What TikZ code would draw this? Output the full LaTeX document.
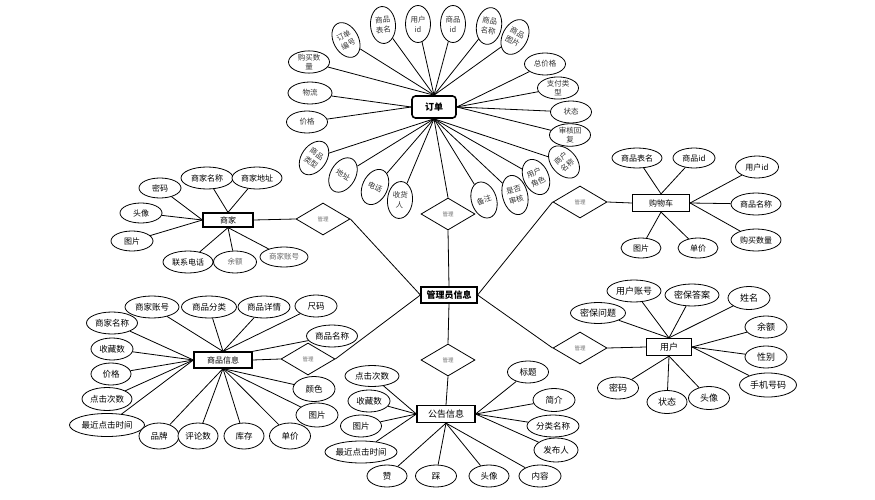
\documentclass[tikz,border=0pt]{standalone}
\usepackage{fontspec}
\setmainfont{Noto Sans CJK SC}
\usetikzlibrary{shapes.geometric}
\begin{document}
\begin{tikzpicture}[x=1pt,y=-1pt,
  every node/.style={font=\fontsize{8}{9}\selectfont},
  ent/.style={draw, line width=1.2pt, inner sep=0pt, fill=white},
  att/.style={draw, ellipse, line width=0.8pt, inner sep=0pt, fill=white, minimum width=42pt, minimum height=21pt, align=center},
  ratt/.style={draw, ellipse, line width=0.8pt, inner sep=0pt, fill=white, minimum width=25pt, minimum height=37pt, align=center, font=\fontsize{7.5}{10}\selectfont, text=black!80},
  oatt/.style={att, minimum width=41pt, minimum height=22pt, font=\fontsize{7.5}{9}\selectfont, text=black!80},
  rel/.style={draw, diamond, line width=0.8pt, inner sep=0pt, fill=white, minimum width=54pt, minimum height=32pt, font=\fontsize{5.5}{6}\selectfont, text=black!55},
  ln/.style={line width=0.8pt},
  f9/.style={font=\fontsize{9}{10}\selectfont},
  gry/.style={text=black!60, font=\fontsize{7.5}{8.5}\selectfont}
]
\fill[white] (0,0) rectangle (875,500);
\useasboundingbox (0,0) rectangle (875,500);

% ---------- entities ----------
\node[ent, rounded corners=3.5pt, line width=1.6pt, minimum width=44pt, minimum height=22pt, font=\fontsize{9}{10}\selectfont\bfseries] (ord) at (434,107) {订单};
\node[ent, minimum width=56pt, minimum height=16pt, font=\fontsize{9}{10}\selectfont\bfseries] (adm) at (449,295) {管理员信息};
\node[ent, minimum width=50pt, minimum height=14pt] (mer) at (228,220) {商家};
\node[ent, minimum width=57pt, minimum height=17pt] (cart) at (661,203) {购物车};
\node[ent, minimum width=45pt, minimum height=17pt, f9] (usr) at (669,347) {用户};
\node[ent, minimum width=58pt, minimum height=16pt] (prd) at (223,360) {商品信息};
\node[ent, minimum width=58pt, minimum height=17pt, f9] (ann) at (446,414) {公告信息};

% ---------- relations ----------
\node[rel] (dT) at (448,214) {管理};
\node[rel] (dL) at (323,219) {管理};
\node[rel] (dR) at (580,202) {管理};
\node[rel] (dRR) at (580,348) {管理};
\node[rel] (dBL) at (308,359) {管理};
\node[rel] (dB) at (448,360) {管理};

% ---------- order attributes ----------
\node[ratt, rotate=28] (o1) at (346,40) {订单\\编号};
\node[ratt, rotate=4] (o2) at (383,25) {商品\\表名};
\node[ratt] (o3) at (418,24) {用户\\id};
\node[ratt] (o4) at (453,24) {商品\\id};
\node[ratt, rotate=-10] (o5) at (489,26) {商品\\名称};
\node[ratt, rotate=-28] (o6) at (515,37) {商品\\图片};
\node[oatt] (o7) at (545,64) {总价格};
\node[oatt] (o8) at (558,88) {支付类\\型};
\node[oatt] (o9) at (571,112) {状态};
\node[oatt] (o10) at (570,135) {审核回\\复};
\node[ratt, rotate=42] (o11) at (564,162) {商户\\名称};
\node[ratt, rotate=25] (o12) at (536,177) {用户\\角色};
\node[ratt, rotate=15, minimum height=40pt] (o13) at (515,195) {是否\\审核};
\node[ratt, rotate=18] (o14) at (484,200) {备注};
\node[ratt, rotate=-5] (o15) at (400,200) {收货\\人};
\node[ratt, rotate=-25] (o16) at (375,187) {电话};
\node[ratt, rotate=-30] (o17) at (343,175) {地址};
\node[ratt, rotate=-35] (o18) at (314,158) {商品\\类型};
\node[oatt] (o19) at (307,122) {价格};
\node[oatt, minimum width=44pt] (o20) at (310,93) {物流};
\node[oatt] (o21) at (309,62) {购买数\\量};

\foreach \n in {o1,o2,o3,o4,o5,o6,o21} \draw[ln] (\n) -- (ord.north);
\foreach \n in {o7,o8,o9,o10} \draw[ln] (\n) -- (ord.east);
\foreach \n in {o19,o20} \draw[ln] (\n) -- (ord.west);
\foreach \n in {o11,o12,o13,o14,o15,o16,o17,o18} \draw[ln] (\n) -- (ord.south);

% ---------- merchant attributes ----------
\node[att, minimum width=42pt, minimum height=20pt] (m1) at (160,188) {密码};
\node[att, minimum width=52pt, minimum height=22pt] (m2) at (207,178) {商家名称};
\node[att, minimum width=50pt, minimum height=22pt] (m3) at (257,178) {商家地址};
\node[att, minimum width=42pt, minimum height=20pt] (m4) at (141,213) {头像};
\node[att, minimum width=42pt, minimum height=20pt] (m5) at (132,241) {图片};
\node[att, minimum width=50pt, minimum height=22pt] (m6) at (188,262) {联系电话};
\node[att, gry, minimum width=43pt, minimum height=22pt] (m7) at (235,262) {余额};
\node[att, gry, minimum width=48pt, minimum height=20pt] (m8) at (284,257) {商家账号};
\foreach \n in {m1,m4,m5} \draw[ln] (\n) -- (mer.west);
\foreach \n in {m2,m3} \draw[ln] (\n) -- (mer.north);
\foreach \n in {m6,m7,m8} \draw[ln] (\n) -- (mer.south);

% ---------- cart attributes ----------
\node[att, minimum width=50pt, minimum height=20pt] (c1) at (637,158) {商品表名};
\node[att, minimum width=42pt, minimum height=20pt] (c2) at (694,158) {商品id};
\node[att, minimum width=43pt, minimum height=22pt] (c3) at (757,167) {用户id};
\node[att, minimum width=50pt, minimum height=22pt] (c4) at (756,204) {商品名称};
\node[att, minimum width=50pt, minimum height=22pt] (c5) at (756,240) {购买数量};
\node[att, minimum width=40pt, minimum height=20pt] (c6) at (641,248) {图片};
\node[att, minimum width=40pt, minimum height=20pt] (c7) at (698,248) {单价};
\foreach \n in {c1,c2} \draw[ln] (\n) -- (cart.north);
\foreach \n in {c3,c4,c5} \draw[ln] (\n) -- (cart.east);
\foreach \n in {c6,c7} \draw[ln] (\n) -- (cart.south);

% ---------- user attributes ----------
\begin{scope}[every node/.append style={f9}]
\node[att, minimum width=54pt, minimum height=22pt] (u1) at (634,291) {用户账号};
\node[att, minimum width=54pt, minimum height=22pt] (u2) at (692,295) {密保答案};
\node[att, minimum width=55pt, minimum height=21pt] (u3) at (598,313) {密保问题};
\node[att, minimum width=42pt, minimum height=23pt] (u4) at (749,298) {姓名};
\node[att, minimum width=42pt, minimum height=22pt] (u5) at (766,327) {余额};
\node[att, minimum width=42pt, minimum height=22pt] (u6) at (766,357) {性别};
\node[att, minimum width=57pt, minimum height=24pt] (u7) at (768,385) {手机号码};
\node[att, minimum width=41pt, minimum height=22pt] (u8) at (618,388) {密码};
\node[att, minimum width=40pt, minimum height=23pt] (u9) at (667,402) {状态};
\node[att, minimum width=41pt, minimum height=23pt] (u10) at (709,398) {头像};
\end{scope}
\foreach \n in {u1,u2,u3,u4} \draw[ln] (\n) -- (usr.north);
\foreach \n in {u5,u6,u7} \draw[ln] (\n) -- (usr.east);
\foreach \n in {u8,u9,u10} \draw[ln] (\n) -- (usr.south);

% ---------- product attributes ----------
\begin{scope}[every node/.append style={font=\fontsize{8.5}{9.5}\selectfont}]
\node[att, minimum width=54pt, minimum height=22pt] (p1) at (152,307) {商家账号};
\node[att, minimum width=55pt, minimum height=22pt] (p2) at (209,307) {商品分类};
\node[att, minimum width=52pt, minimum height=22pt] (p3) at (264,307) {商品详情};
\node[att, minimum width=42pt, minimum height=22pt] (p4) at (316,306) {尺码};
\node[att, minimum width=51pt, minimum height=22pt] (p5) at (112,323) {商家名称};
\node[att, minimum width=51pt, minimum height=22pt] (p6) at (332,336) {商品名称};
\node[att, minimum width=42pt, minimum height=22pt] (p7) at (112,349) {收藏数};
\node[att, minimum width=40pt, minimum height=22pt] (p8) at (111,374) {价格};
\node[att, minimum width=50pt, minimum height=23pt] (p9) at (107,399) {点击次数};
\node[att, minimum width=75pt, minimum height=23pt] (p10) at (107,425) {最近点击时间};
\node[att, minimum width=40pt, minimum height=26pt] (p11) at (159,436) {品牌};
\node[att, minimum width=40pt, minimum height=26pt] (p12) at (198,436) {评论数};
\node[att, minimum width=40pt, minimum height=26pt] (p13) at (244,436) {库存};
\node[att, minimum width=41pt, minimum height=26pt] (p14) at (290,436) {单价};
\node[att, minimum width=42pt, minimum height=25pt] (p15) at (314,389) {颜色};
\node[att, minimum width=42pt, minimum height=24pt] (p16) at (317,415) {图片};
\end{scope}
\foreach \n in {p1,p2,p3,p4} \draw[ln] (\n) -- (prd.north);
\foreach \n in {p5,p7,p8,p9,p10} \draw[ln] (\n) -- (prd.west);
\foreach \n in {p11,p12,p13,p14,p15,p16} \draw[ln] (\n) -- (prd.south);
\draw[ln] (p6) -- (prd.north east);

% ---------- announcement attributes ----------
\begin{scope}[every node/.append style={font=\fontsize{8.5}{9.5}\selectfont}]
\node[att, minimum width=54pt, minimum height=21pt] (a1) at (372,376) {点击次数};
\node[att, minimum width=42pt, minimum height=22pt] (a2) at (369,401) {收藏数};
\node[att, minimum width=41pt, minimum height=22pt] (a3) at (361,426) {图片};
\node[att, minimum width=68pt, minimum height=22pt] (a4) at (361,452) {最近点击时间};
\node[att, minimum width=40pt, minimum height=22pt] (a5) at (387,476) {赞};
\node[att, minimum width=41pt, minimum height=22pt] (a6) at (436,476) {踩};
\node[att, minimum width=40pt, minimum height=22pt] (a7) at (489,476) {头像};
\node[att, minimum width=42pt, minimum height=22pt] (a8) at (540,476) {内容};
\node[att, minimum width=41pt, minimum height=22pt] (a9) at (528,372) {标题};
\node[att, minimum width=42pt, minimum height=23pt] (a10) at (554,400) {简介};
\node[att, minimum width=52pt, minimum height=22pt] (a11) at (553,426) {分类名称};
\node[att, minimum width=44pt, minimum height=24pt] (a12) at (556,450) {发布人};
\end{scope}
\foreach \n in {a1,a2,a3,a4} \draw[ln] (\n) -- (ann.west);
\foreach \n in {a5,a6,a7,a8} \draw[ln] (\n) -- (ann.south);
\foreach \n in {a9,a10,a11,a12} \draw[ln] (\n) -- (ann.east);

% ---------- relation connectors ----------
\draw[ln] (dT.north) -- (ord.south);
\draw[ln] (dT.south) -- (adm.north);
\draw[ln] (dL.west) -- (mer.east);
\draw[ln] (dL.east) -- (adm.west);
\draw[ln] (dR.east) -- (cart.west);
\draw[ln] (dR.west) -- (adm.east);
\draw[ln] (dRR.east) -- (usr.west);
\draw[ln] (dRR.west) -- (adm.east);
\draw[ln] (dBL.west) -- (prd.east);
\draw[ln] (dBL.east) -- (adm.west);
\draw[ln] (dB.north) -- (adm.south);
\draw[ln] (dB.south) -- (ann.north);
\end{tikzpicture}
\end{document}
